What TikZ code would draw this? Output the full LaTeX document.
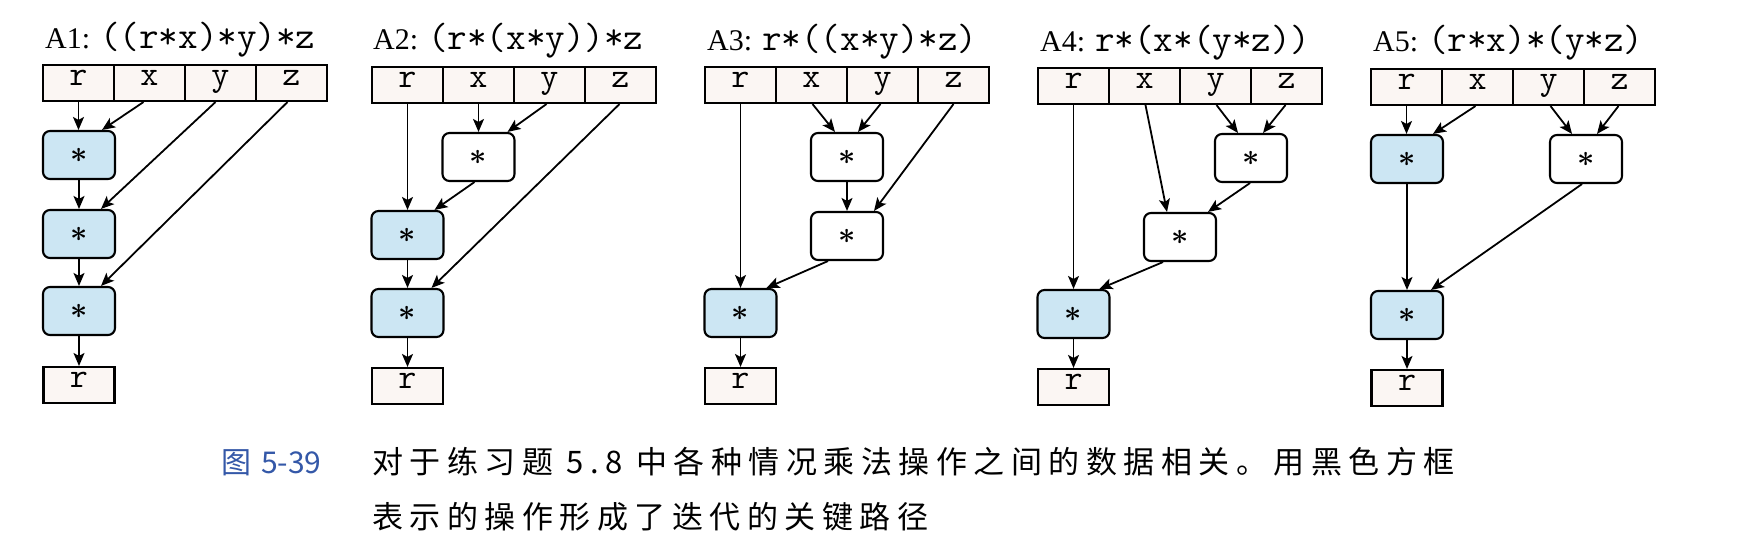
\documentclass[tikz,border=0pt]{standalone}
\usepackage{fontspec}
\usepackage{graphicx}
\setmainfont{Liberation Serif}
\newfontfamily\cjk[LetterSpace=21]{Noto Sans CJK SC}
\newfontfamily\cjkplain{Noto Sans CJK SC}
\usepackage{bm}
\usetikzlibrary{arrows.meta}
\definecolor{crit}{RGB}{204,230,243}
\definecolor{cellfill}{RGB}{251,246,243}
\definecolor{capblue}{RGB}{52,88,168}
\tikzset{
  regcell/.style={draw, line width=2.1pt, fill=cellfill, minimum width=71pt, minimum height=36pt,
    inner sep=0pt, text height=0.45em, text depth=0pt, font=\fontsize{35}{35}\selectfont\ttfamily},
  opbox/.style={draw, line width=2.1pt, rounded corners=7pt, minimum width=72pt, minimum height=48pt,
    inner sep=0pt, font=\fontsize{10}{10}\selectfont},
  critbox/.style={opbox, fill=crit},
  plainbox/.style={opbox, fill=white},
  outbox/.style={regcell, minimum width=71pt},
  arr/.style={-{Stealth[length=13pt,width=11pt,inset=3pt]}, line width=1.8pt},
  ttl/.style={anchor=base west, inner sep=0pt, font=\fontsize{30}{30}\selectfont},
  capfont/.style={anchor=base west, inner sep=0pt, font=\cjk\fontsize{31}{31}\selectfont},
}
\newcommand{\ttl}[1]{{\ttfamily\fontsize{38}{38}\selectfont #1}}
\newcommand{\opstar}{\scalebox{3}{$\bm{\ast}$}}
\begin{document}
\begin{tikzpicture}[x=1pt,y=-1pt]
\useasboundingbox[fill=white] (0,0) rectangle (1755,545);

% ---------------- A1 ----------------
\node[ttl] (t1) at (45,49) {A1: \ttl{((r*x)*y)*z}};
\node[regcell] (a1r) at (78.5,83) {r};
\node[regcell] (a1x) at (149.5,83) {x};
\node[regcell] (a1y) at (220.5,83) {y};
\node[regcell] (a1z) at (291.5,83) {z};
\node[critbox] (a1m1) at (79,155) {\opstar};
\node[critbox] (a1m2) at (79,234) {\opstar};
\node[critbox] (a1m3) at (79,311) {\opstar};
\node[outbox] (a1o) at (79,385) {r};
\draw[arr] (a1r.south) -- (a1r.south |- a1m1.north);
\draw[arr] ([xshift=-6pt]a1x.south) -- ([xshift=23pt]a1m1.north);
\draw[arr] ([xshift=-5pt]a1y.south) -- ([xshift=22pt]a1m2.north);
\draw[arr] ([xshift=-4pt]a1z.south) -- ([xshift=22pt]a1m3.north);
\draw[arr] (a1m1) -- (a1m2);
\draw[arr] (a1m2) -- (a1m3);
\draw[arr] (a1m3) -- (a1o);

% ---------------- A2 ----------------
\node[ttl] (t2) at (373,50) {A2: \ttl{(r*(x*y))*z}};
\node[regcell] (a2r) at (407.5,85) {r};
\node[regcell] (a2x) at (478.5,85) {x};
\node[regcell] (a2y) at (549.5,85) {y};
\node[regcell] (a2z) at (620.5,85) {z};
\node[plainbox] (a2m1) at (478.5,157) {\opstar};
\node[critbox] (a2m2) at (407.5,235) {\opstar};
\node[critbox] (a2m3) at (407.5,313) {\opstar};
\node[outbox] (a2o) at (407.5,386) {r};
\draw[arr] (a2r.south) -- (a2r.south |- a2m2.north);
\draw[arr] (a2x.south) -- (a2m1.north);
\draw[arr] ([xshift=-3pt]a2y.south) -- ([xshift=29pt]a2m1.north);
\draw[arr] ([xshift=-4pt]a2m1.south) -- ([xshift=27pt]a2m2.north);
\draw[arr] ([xshift=-1pt]a2z.south) -- ([xshift=24pt]a2m3.north);
\draw[arr] (a2m2) -- (a2m3);
\draw[arr] (a2m3) -- (a2o);

% ---------------- A3 ----------------
\node[ttl] (t3) at (707,51) {A3: \ttl{r*((x*y)*z)}};
\node[regcell] (a3r) at (740.5,85) {r};
\node[regcell] (a3x) at (811.5,85) {x};
\node[regcell] (a3y) at (882.5,85) {y};
\node[regcell] (a3z) at (953.5,85) {z};
\node[plainbox] (a3m1) at (847,157) {\opstar};
\node[plainbox] (a3m2) at (847,236) {\opstar};
\node[critbox] (a3m3) at (740.5,313) {\opstar};
\node[outbox] (a3o) at (740.5,386) {r};
\draw[arr] (a3r.south) -- (a3r.south |- a3m3.north);
\draw[arr] ([xshift=1pt]a3x.south) -- ([xshift=-12pt]a3m1.north);
\draw[arr] ([xshift=-2pt]a3y.south) -- ([xshift=11pt]a3m1.north);
\draw[arr] (a3m1) -- (a3m2);
\draw[arr] (a3z.south) -- ([xshift=27pt]a3m2.north);
\draw[arr] ([xshift=-19pt]a3m2.south) -- ([xshift=26pt]a3m3.north);
\draw[arr] (a3m3) -- (a3o);

% ---------------- A4 ----------------
\node[ttl] (t4) at (1040,52) {A4: \ttl{r*(x*(y*z))}};
\node[regcell] (a4r) at (1073.5,86) {r};
\node[regcell] (a4x) at (1144.5,86) {x};
\node[regcell] (a4y) at (1215.5,86) {y};
\node[regcell] (a4z) at (1286.5,86) {z};
\node[plainbox] (a4m1) at (1251,158) {\opstar};
\node[plainbox] (a4m2) at (1180,237) {\opstar};
\node[critbox] (a4m3) at (1073.5,314) {\opstar};
\node[outbox] (a4o) at (1073.5,387) {r};
\draw[arr] (a4r.south) -- (a4r.south |- a4m3.north);
\draw[arr] ([xshift=1pt]a4x.south) -- ([xshift=-13pt]a4m2.north);
\draw[arr] ([xshift=1pt]a4y.south) -- ([xshift=-13pt]a4m1.north);
\draw[arr] ([xshift=-1pt]a4z.south) -- ([xshift=12pt]a4m1.north);
\draw[arr] ([xshift=-1pt]a4m1.south) -- ([xshift=28pt]a4m2.north);
\draw[arr] ([xshift=-17pt]a4m2.south) -- ([xshift=26pt]a4m3.north);
\draw[arr] (a4m3) -- (a4o);

% ---------------- A5 ----------------
\node[ttl] (t5) at (1373,52) {A5: \ttl{(r*x)*(y*z)}};
\node[regcell] (a5r) at (1406.5,87) {r};
\node[regcell] (a5x) at (1477.5,87) {x};
\node[regcell] (a5y) at (1548.5,87) {y};
\node[regcell] (a5z) at (1619.5,87) {z};
\node[critbox] (a5m1) at (1407,159) {\opstar};
\node[plainbox] (a5m2) at (1586,159) {\opstar};
\node[critbox] (a5m3) at (1407,315) {\opstar};
\node[outbox] (a5o) at (1407,388) {r};
\draw[arr] (a5r.south) -- (a5r.south |- a5m1.north);
\draw[arr] ([xshift=-2pt]a5x.south) -- ([xshift=26pt]a5m1.north);
\draw[arr] ([xshift=2pt]a5y.south) -- ([xshift=-14pt]a5m2.north);
\draw[arr] ([xshift=-1pt]a5z.south) -- ([xshift=11pt]a5m2.north);
\draw[arr] (a5m1) -- (a5m3);
\draw[arr] ([xshift=-4pt]a5m2.south) -- ([xshift=24pt]a5m3.north);
\draw[arr] (a5m3) -- (a5o);

% ---------------- caption ----------------
\node[anchor=base west, inner sep=0pt, text=capblue, font=\cjkplain\fontsize{30}{30}\selectfont] (fig) at (221,473) {图\hspace{10pt}5-39};
\node[capfont] (cap1) at (372,473) {对于练习题 5.8 中各种情况乘法操作之间的数据相关。用黑色方框};
\node[capfont] (cap2) at (372,528) {表示的操作形成了迭代的关键路径};
\end{tikzpicture}
\end{document}
